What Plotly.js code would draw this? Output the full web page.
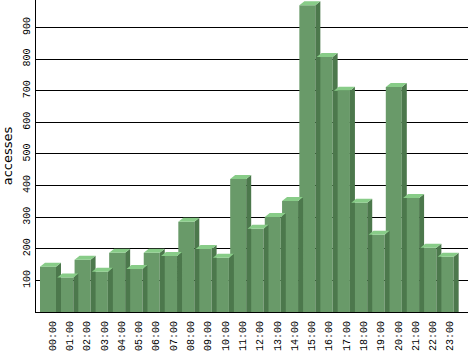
<!DOCTYPE html>
<html><head><meta charset="utf-8">
<script src="https://cdn.plot.ly/plotly-3.0.1.min.js"></script>
<style>html,body{margin:0;padding:0;background:#fff}#chart{width:468px;height:351px}</style>
</head><body><div id="chart"></div>
<script>
// ---- data ----
const hours = ["00:00","01:00","02:00","03:00","04:00","05:00","06:00","07:00","08:00","09:00","10:00","11:00",
               "12:00","13:00","14:00","15:00","16:00","17:00","18:00","19:00","20:00","21:00","22:00","23:00"];
const accesses = [156,122,178,140,200,149,200,190,298,212,184,433,276,313,364,983,819,712,358,257,724,373,216,187];
const yTicks = [100,200,300,400,500,600,700,800,900];

// ---- geometry / style ----
const W = 468, H = 351, ML = 36, MB = 39;
const pxPerX = 17.29, pxPerY = 0.31625;
const xMin = -(48 - ML) / pxPerX;
const xMax = xMin + (W - ML) / pxPerX;
const yMax = (H - MB) / pxPerY;
const barW = 16 / pxPerX;       // front face width (data units)
const dx = 5 / pxPerX;          // depth offset x
const dy = 4 / pxPerY;          // depth offset y
const FRONT = '#699a69', SIDE = '#4c784c', TOP = '#88cc88';
const idx = hours.map((_, i) => i);

const sideX = [], sideY = [], topX = [], topY = [];
idx.forEach(i => {
  const v = accesses[i];
  const l = i - barW / 2, r = i + barW / 2;
  sideX.push(r, r + dx, r + dx, r, r, null);
  sideY.push(-dy, 0, v, v - dy, -dy, null);
  topX.push(l, r, r + dx, l + dx, l, null);
  topY.push(v - dy, v - dy, v, v, v - dy, null);
});

const traces = [
  {type:'scatter', x:sideX, y:sideY, mode:'none', fill:'toself', fillcolor:SIDE, cliponaxis:false, hoverinfo:'skip'},
  {type:'scatter', x:topX, y:topY, mode:'none', fill:'toself', fillcolor:TOP, cliponaxis:false, hoverinfo:'skip'},
  {type:'bar', x:idx, y:accesses, base:-dy, width:barW, marker:{color:FRONT, line:{width:0}}, cliponaxis:false, hoverinfo:'skip'}
];

const tickFont = {family:'Liberation Mono', size:10, color:'#000'};
const layout = {
  width:W, height:H, showlegend:false,
  margin:{l:ML, r:0, t:0, b:MB, pad:0},
  paper_bgcolor:'#fff', plot_bgcolor:'#fff',
  xaxis:{range:[xMin, xMax], tickmode:'array', tickvals:idx.map(i => i + 0.26), ticktext:hours,
         tickangle:-90, ticks:'', ticklabelstandoff:4, showgrid:false, zeroline:false, showline:true, linecolor:'#000', linewidth:1,
         layer:'below traces', tickfont:tickFont, fixedrange:true},
  yaxis:{range:[0, yMax], tickmode:'array', tickvals:yTicks, tickangle:-90, ticks:'', ticklabelstandoff:1,
         showgrid:true, gridcolor:'#000', gridwidth:1, zeroline:false, showline:true, linecolor:'#000', linewidth:1,
         layer:'below traces', tickfont:tickFont, fixedrange:true,
         title:{text:'accesses', font:{family:'DejaVu Sans', size:13, color:'#000'}, standoff:8}}
};
Plotly.newPlot('chart', traces, layout, {staticPlot:true, displayModeBar:false});
</script>
</body></html>
